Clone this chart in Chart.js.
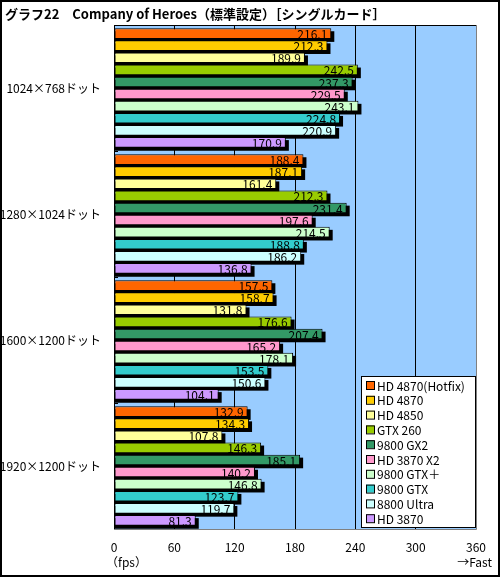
<!DOCTYPE html>
<html>
<head>
<meta charset="utf-8">
<script src="https://cdn.jsdelivr.net/npm/chart.js@4/dist/chart.umd.min.js"></script>
<style>
  html, body { margin: 0; padding: 0; background: #fff; }
  #wrap { width: 500px; height: 577px; }
</style>
</head>
<body>
<div id="wrap"><canvas id="chart" width="500" height="577"></canvas></div>
<script>
// データ
const resolutions = ["1024×768ドット", "1280×1024ドット", "1600×1200ドット", "1920×1200ドット"];
const cards = ["HD 4870(Hotfix)", "HD 4870", "HD 4850", "GTX 260", "9800 GX2", "HD 3870 X2", "9800 GTX＋", "9800 GTX", "8800 Ultra", "HD 3870"];
const cardColors = ["#ff6600", "#ffcc00", "#ffff99", "#99cc00", "#339966", "#ff99cc", "#ccffcc", "#33cccc", "#ccffff", "#cc99ff"];
const hd4870hotfix = [216.1, 188.4, 157.5, 132.9];
const hd4870 = [212.3, 187.1, 158.7, 134.3];
const hd4850 = [189.9, 161.4, 131.8, 107.8];
const gtx260 = [242.5, 212.3, 176.6, 146.3];
const gx2_9800 = [237.3, 231.4, 207.4, 185.1];
const hd3870x2 = [229.5, 197.6, 165.2, 140.2];
const gtxplus_9800 = [243.1, 214.5, 178.1, 146.8];
const gtx_9800 = [224.8, 188.8, 153.5, 123.7];
const ultra_8800 = [220.9, 186.2, 150.6, 119.7];
const hd3870 = [170.9, 136.8, 104.1, 81.3];
const xTicks = [0, 60, 120, 180, 240, 300, 360];

const series = [hd4870hotfix, hd4870, hd4850, gtx260, gx2_9800, hd3870x2, gtxplus_9800, gtx_9800, ultra_8800, hd3870];
const FONT = '"Noto Sans CJK JP", "DejaVu Sans", sans-serif';

// 影・枠・数値・凡例・タイトルなど
const decor = {
  id: "decor",
  beforeDraw(chart) {
    const { ctx, chartArea: a } = chart;
    ctx.save();
    ctx.fillStyle = "#99ccff";
    ctx.fillRect(a.left, a.top, a.right - a.left, a.bottom - a.top);
    ctx.restore();
  },
  beforeDatasetsDraw(chart) {
    const ctx = chart.ctx;
    ctx.save();
    ctx.fillStyle = "#000";
    chart.data.datasets.forEach((ds, i) => {
      chart.getDatasetMeta(i).data.forEach((el) => {
        const { x, y, base, height } = el.getProps(["x", "y", "base", "height"], true);
        ctx.fillRect(base, y - height / 2 + 3, x - base + 3, height);
      });
    });
    ctx.restore();
  },
  afterDatasetsDraw(chart) {
    const ctx = chart.ctx;
    ctx.save();
    ctx.font = "12px " + FONT;
    ctx.fillStyle = "#000";
    ctx.textAlign = "right";
    ctx.textBaseline = "middle";
    chart.data.datasets.forEach((ds, i) => {
      chart.getDatasetMeta(i).data.forEach((el, j) => {
        const { x, y } = el.getProps(["x", "y"], true);
        ctx.fillText(ds.data[j].toFixed(1), x - 4, y + 1);
      });
    });
    ctx.restore();
  },
  afterDraw(chart) {
    const { ctx, chartArea: a } = chart;
    ctx.save();
    // プロット枠
    ctx.strokeStyle = "#808080";
    ctx.lineWidth = 1;
    ctx.beginPath();
    ctx.moveTo(a.right + 0.5, a.top);
    ctx.lineTo(a.right + 0.5, a.bottom + 0.5);
    ctx.lineTo(a.left, a.bottom + 0.5);
    ctx.stroke();
    ctx.strokeStyle = "#000";
    ctx.beginPath();
    ctx.moveTo(a.left, a.top + 0.5);
    ctx.lineTo(a.right, a.top + 0.5);
    ctx.stroke();
    // 区切りの目盛り
    const ys = chart.scales.y;
    for (let k = 1; k < resolutions.length; k++) {
      const yy = Math.round((ys.getPixelForTick(k - 1) + ys.getPixelForTick(k)) / 2) + 0.5;
      ctx.beginPath();
      ctx.moveTo(a.left, yy);
      ctx.lineTo(a.left + 4, yy);
      ctx.stroke();
    }

    // 凡例
    const lx = 361, ly = 376, lw = 114, lh = 151;
    ctx.fillStyle = "#fff";
    ctx.fillRect(lx, ly, lw, lh);
    ctx.strokeStyle = "#000";
    ctx.strokeRect(lx + 0.5, ly + 0.5, lw, lh);
    ctx.font = "12px " + FONT;
    ctx.textBaseline = "middle";
    ctx.textAlign = "left";
    chart.data.datasets.forEach((ds, i) => {
      const cy = ly + 9 + i * 14.8;
      ctx.fillStyle = ds.backgroundColor;
      ctx.fillRect(lx + 5, cy - 4, 8, 8);
      ctx.strokeStyle = "#000";
      ctx.strokeRect(lx + 5.5, cy - 3.5, 8, 8);
      ctx.fillStyle = "#000";
      ctx.fillText(ds.label, lx + 16, cy + 1);
    });

    // タイトル
    ctx.font = "bold 13px " + FONT;
    ctx.textBaseline = "alphabetic";
    ctx.fillText("グラフ22　Company of Heroes（標準設定）［シングルカード］", 5, 19);

    // 単位
    ctx.font = "12px " + FONT;
    ctx.textAlign = "left";
    ctx.fillText("（fps）", 106, 567);
    ctx.textAlign = "right";
    ctx.fillText("→Fast", 492, 567);

    // 外枠
    ctx.strokeStyle = "#000";
    ctx.lineWidth = 2;
    ctx.strokeRect(1, 1, 498, 575);
    ctx.restore();
  }
};

new Chart(document.getElementById("chart"), {
  type: "bar",
  data: {
    labels: resolutions,
    datasets: cards.map((name, i) => ({
      label: name,
      data: series[i],
      backgroundColor: cardColors[i],
      borderColor: "#000",
      borderWidth: 1,
      borderSkipped: false,
      categoryPercentage: 0.96,
      barPercentage: 0.88,
    })),
  },
  options: {
    indexAxis: "y",
    responsive: false,
    animation: false,
    devicePixelRatio: 1,
    layout: { padding: { top: 25, left: 0, right: 24, bottom: 0 } },
    plugins: { legend: { display: false }, tooltip: { enabled: false }, title: { display: false } },
    scales: {
      x: {
        min: 0,
        max: 360,
        afterBuildTicks: (scale) => { scale.ticks = xTicks.map((v) => ({ value: v })); },
        afterFit: (scale) => { scale.height = 48; },
        grid: { color: "#000", drawTicks: false, lineWidth: 1 },
        border: { display: false },
        ticks: { color: "#000", font: { size: 12, family: FONT }, padding: 11, maxRotation: 0 },
      },
      y: {
        afterFit: (scale) => { scale.width = 114; },
        grid: { display: false, drawTicks: false },
        border: { display: true, color: "#000", width: 1 },
        ticks: { color: "#000", font: { size: 12, family: FONT }, padding: 13 },
      },
    },
  },
  plugins: [decor],
});
</script>
</body>
</html>
